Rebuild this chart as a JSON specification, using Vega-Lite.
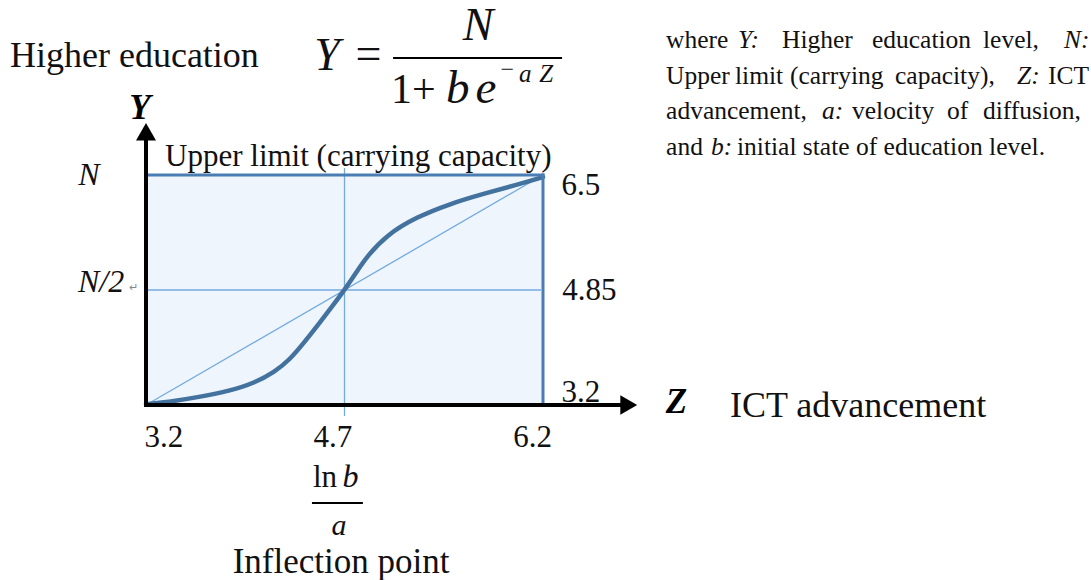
{
  "$schema": "https://vega.github.io/schema/vega-lite/v6.json",
  "width": 1091,
  "height": 580,
  "autosize": "none",
  "padding": 0,
  "background": "white",
  "config": {"view": {"stroke": null}, "font": "Liberation Serif"},
  "datasets": {
    "box": [{"z": 3.2, "z2": 6.2, "y": 3.2, "y2": 6.5}],
    "thin": [
      {"z": 4.7, "z2": 4.7, "y": 3.042, "y2": 6.6},
      {"z": 3.2, "z2": 6.185, "y": 4.85, "y2": 4.85},
      {"z": 3.2, "z2": 6.2, "y": 3.2, "y2": 6.5}
    ],
    "border": [
      {"z": 3.2, "z2": 6.2, "y": 6.5, "y2": 6.5},
      {"z": 6.2, "z2": 6.2, "y": 3.2, "y2": 6.5}
    ],
    "axes": [
      {"z": 3.2, "z2": 3.2, "y": 3.175, "y2": 7.074},
      {"z": 3.185, "z2": 6.82, "y": 3.2, "y2": 3.2}
    ],
    "bars": [
      {"z": 5.067, "z2": 6.344, "y": 8.179, "y2": 8.179},
      {"z": 4.454, "z2": 4.839, "y": 1.794, "y2": 1.794}
    ],
    "arrowUp": [{"z": 3.2, "y": 7.121}],
    "arrowRight": [{"z": 6.848, "y": 3.2}],
    "curve": [
      {"z": 3.2, "y": 3.21},
      {"z": 3.415, "y": 3.257},
      {"z": 3.604, "y": 3.315},
      {"z": 3.831, "y": 3.401},
      {"z": 4.02, "y": 3.516},
      {"z": 4.171, "y": 3.673},
      {"z": 4.284, "y": 3.846},
      {"z": 4.398, "y": 4.104},
      {"z": 4.511, "y": 4.377},
      {"z": 4.609, "y": 4.62},
      {"z": 4.7, "y": 4.85},
      {"z": 4.791, "y": 5.108},
      {"z": 4.866, "y": 5.323},
      {"z": 5.017, "y": 5.639},
      {"z": 5.244, "y": 5.897},
      {"z": 5.493, "y": 6.084},
      {"z": 5.743, "y": 6.227},
      {"z": 6.0, "y": 6.357},
      {"z": 6.2, "y": 6.47}
    ],
    "bigLeft": [
      {"t": "Higher education", "z": 2.172, "y": 8.05},
      {"t": "ICT advancement", "z": 7.613, "y": 3.028}
    ],
    "bigCenter": [
      {"t": "Inflection point", "z": 4.674, "y": 0.79}
    ],
    "ticks": [
      {"t": "6.5", "z": 6.487, "y": 6.213},
      {"t": "4.85", "z": 6.551, "y": 4.707},
      {"t": "3.2", "z": 6.487, "y": 3.243},
      {"t": "3.2", "z": 3.336, "y": 2.597},
      {"t": "4.7", "z": 4.613, "y": 2.597},
      {"t": "6.2", "z": 6.121, "y": 2.597}
    ],
    "midLeft": [
      {"t": "Upper limit (carrying capacity)", "z": 3.344, "y": 6.629},
      {"t": "ln", "z": 4.462, "y": 2.024}
    ],
    "italicMid": [
      {"t": "N", "z": 2.769, "y": 6.357},
      {"t": "N/2", "z": 2.86, "y": 4.821},
      {"t": "b", "z": 4.745, "y": 2.024}
    ],
    "italicSmall": [
      {"t": "a", "z": 4.658, "y": 1.34}
    ],
    "axisLetters": [
      {"t": "Y", "z": 3.155, "y": 7.303},
      {"t": "Z", "z": 7.209, "y": 3.085}
    ],
    "formulaItalic": [
      {"t": "Y", "z": 4.568, "y": 8.007},
      {"t": "N", "z": 5.709, "y": 8.437}
    ],
    "formulaEq": [{"t": "=", "z": 4.881, "y": 8.021}],
    "formulaOne": [{"t": "1+", "z": 5.051, "y": 7.533}],
    "formulaBe": [
      {"t": "b", "z": 5.467, "y": 7.533},
      {"t": "e", "z": 5.69, "y": 7.533}
    ],
    "supMinus": [{"t": "−", "z": 5.93, "y": 7.899}],
    "supItalic": [
      {"t": "a", "z": 6.066, "y": 7.834},
      {"t": "Z", "z": 6.225, "y": 7.834}
    ],
    "paraNormal": [
      {"t": "where", "z": 7.13, "y": 8.322},
      {"t": "Higher", "z": 8.006, "y": 8.322},
      {"t": "education", "z": 8.686, "y": 8.322},
      {"t": "level,", "z": 9.525, "y": 8.322},
      {"t": "Upper", "z": 7.13, "y": 7.806},
      {"t": "limit", "z": 7.651, "y": 7.806},
      {"t": "(carrying", "z": 8.067, "y": 7.806},
      {"t": "capacity),", "z": 8.86, "y": 7.806},
      {"t": "ICT", "z": 10.016, "y": 7.806},
      {"t": "advancement,", "z": 7.13, "y": 7.297},
      {"t": "velocity", "z": 8.535, "y": 7.297},
      {"t": "of", "z": 9.253, "y": 7.297},
      {"t": "diffusion,", "z": 9.525, "y": 7.297},
      {"t": "and", "z": 7.13, "y": 6.787},
      {"t": "initial state of education level.", "z": 7.666, "y": 6.787}
    ],
    "paraItalic": [
      {"t": "Y:", "z": 7.674, "y": 8.322},
      {"t": "N:", "z": 10.137, "y": 8.322},
      {"t": "Z:", "z": 9.782, "y": 7.806},
      {"t": "a:", "z": 8.308, "y": 7.297},
      {"t": "b:", "z": 7.47, "y": 6.787}
    ],
    "returnMark": [{"t": "↵", "z": 3.109, "y": 4.836}]
  },
  "encoding": {
    "x": {"field": "z", "type": "quantitative", "scale": {"domain": [2.0967, 10.3411], "nice": false, "zero": false}, "axis": null},
    "y": {"field": "y", "type": "quantitative", "scale": {"domain": [0.6891, 9.0109], "nice": false, "zero": false}, "axis": null}
  },
  "layer": [
    {"data": {"name": "box"}, "mark": {"type": "rect", "color": "#eef5fd"},
     "encoding": {"x2": {"field": "z2"}, "y2": {"field": "y2"}}},
    {"data": {"name": "thin"}, "mark": {"type": "rule", "color": "#74aade", "strokeWidth": 1.3},
     "encoding": {"x2": {"field": "z2"}, "y2": {"field": "y2"}}},
    {"data": {"name": "curve"}, "mark": {"type": "line", "interpolate": "basis", "color": "#44729f", "strokeWidth": 4.5, "strokeCap": "round"}},
    {"data": {"name": "border"}, "mark": {"type": "rule", "color": "#4a7db3", "strokeWidth": 3, "strokeCap": "square"},
     "encoding": {"x2": {"field": "z2"}, "y2": {"field": "y2"}}},
    {"data": {"name": "axes"}, "mark": {"type": "rule", "color": "black", "strokeWidth": 4},
     "encoding": {"x2": {"field": "z2"}, "y2": {"field": "y2"}}},
    {"data": {"name": "bars"}, "mark": {"type": "rule", "color": "black", "strokeWidth": 1.8},
     "encoding": {"x2": {"field": "z2"}, "y2": {"field": "y2"}}},
    {"data": {"name": "arrowUp"}, "mark": {"type": "point", "shape": "triangle-up", "filled": true, "size": 400, "color": "black", "opacity": 1}},
    {"data": {"name": "arrowRight"}, "mark": {"type": "point", "shape": "triangle-right", "filled": true, "size": 380, "color": "black", "opacity": 1}},
    {"data": {"name": "bigLeft"}, "mark": {"type": "text", "align": "left", "baseline": "alphabetic", "fontSize": 36, "color": "#111"},
     "encoding": {"text": {"field": "t"}}},
    {"data": {"name": "bigCenter"}, "mark": {"type": "text", "align": "center", "baseline": "alphabetic", "fontSize": 35, "color": "#111"},
     "encoding": {"text": {"field": "t"}}},
    {"data": {"name": "ticks"}, "mark": {"type": "text", "align": "center", "baseline": "alphabetic", "fontSize": 31, "color": "#111"},
     "encoding": {"text": {"field": "t"}}},
    {"data": {"name": "midLeft"}, "mark": {"type": "text", "align": "left", "baseline": "alphabetic", "fontSize": 31, "color": "#111"},
     "encoding": {"text": {"field": "t"}}},
    {"data": {"name": "italicMid"}, "mark": {"type": "text", "align": "center", "baseline": "alphabetic", "fontSize": 32, "fontStyle": "italic", "color": "#111"},
     "encoding": {"text": {"field": "t"}}},
    {"data": {"name": "italicSmall"}, "mark": {"type": "text", "align": "center", "baseline": "alphabetic", "fontSize": 30, "fontStyle": "italic", "color": "#111"},
     "encoding": {"text": {"field": "t"}}},
    {"data": {"name": "axisLetters"}, "mark": {"type": "text", "align": "center", "baseline": "alphabetic", "fontSize": 35, "fontStyle": "italic", "fontWeight": "bold", "color": "#000"},
     "encoding": {"text": {"field": "t"}}},
    {"data": {"name": "formulaItalic"}, "mark": {"type": "text", "align": "center", "baseline": "alphabetic", "fontSize": 46, "fontStyle": "italic", "color": "#111"},
     "encoding": {"text": {"field": "t"}}},
    {"data": {"name": "formulaEq"}, "mark": {"type": "text", "align": "center", "baseline": "alphabetic", "fontSize": 46, "color": "#111"},
     "encoding": {"text": {"field": "t"}}},
    {"data": {"name": "formulaOne"}, "mark": {"type": "text", "align": "left", "baseline": "alphabetic", "fontSize": 42, "color": "#111"},
     "encoding": {"text": {"field": "t"}}},
    {"data": {"name": "formulaBe"}, "mark": {"type": "text", "align": "left", "baseline": "alphabetic", "fontSize": 47, "fontStyle": "italic", "color": "#111"},
     "encoding": {"text": {"field": "t"}}},
    {"data": {"name": "supMinus"}, "mark": {"type": "text", "align": "center", "baseline": "alphabetic", "fontSize": 24, "color": "#111"},
     "encoding": {"text": {"field": "t"}}},
    {"data": {"name": "supItalic"}, "mark": {"type": "text", "align": "center", "baseline": "alphabetic", "fontSize": 25, "fontStyle": "italic", "color": "#111"},
     "encoding": {"text": {"field": "t"}}},
    {"data": {"name": "paraNormal"}, "mark": {"type": "text", "align": "left", "baseline": "alphabetic", "fontSize": 25.5, "color": "#111"},
     "encoding": {"text": {"field": "t"}}},
    {"data": {"name": "paraItalic"}, "mark": {"type": "text", "align": "left", "baseline": "alphabetic", "fontSize": 25.5, "fontStyle": "italic", "color": "#111"},
     "encoding": {"text": {"field": "t"}}},
    {"data": {"name": "returnMark"}, "mark": {"type": "text", "align": "center", "baseline": "alphabetic", "fontSize": 11, "font": "DejaVu Sans", "color": "#888"},
     "encoding": {"text": {"field": "t"}}}
  ]
}
